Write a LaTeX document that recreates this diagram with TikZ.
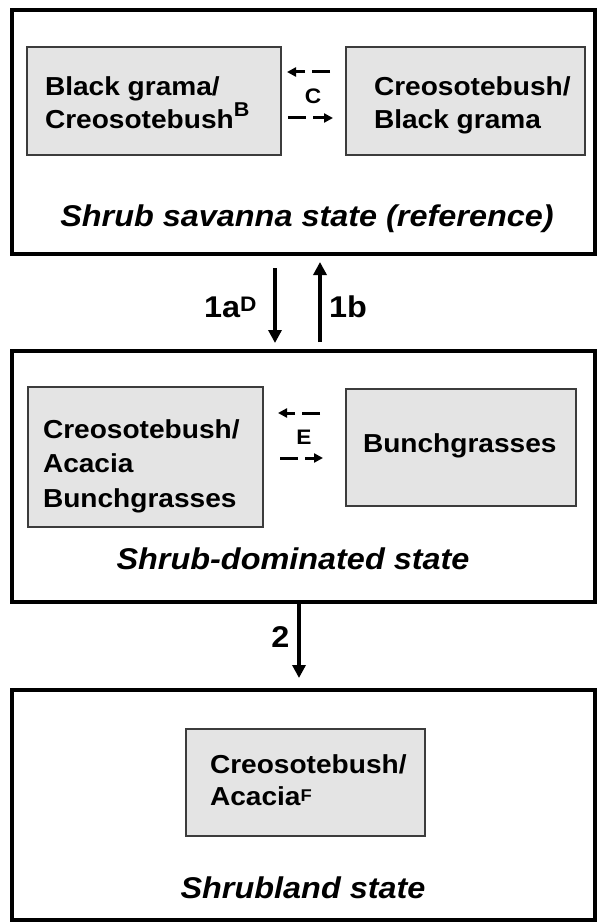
\documentclass[tikz,border=0pt]{standalone}
\usepackage{fontspec}
\setmainfont{Liberation Sans}[FakeStretch=1.08]
\usetikzlibrary{arrows.meta}
\definecolor{boxgray}{RGB}{228,228,228}
\definecolor{edgegray}{RGB}{60,60,60}
\newcommand{\fsz}[2]{\fontsize{#1}{#2}\selectfont}
\newcommand{\supr}[3]{\raisebox{#2pt}{\fontsize{#1}{#1}\selectfont #3}}
\begin{document}
\begin{tikzpicture}[x=1pt,y=-1pt,
  statebox/.style={draw=black,line width=4.5pt,rectangle,inner sep=0pt,outer sep=0pt},
  gbox/.style={draw=edgegray,fill=boxgray,line width=1.5pt,rectangle,inner sep=0pt,outer sep=0pt},
  btext/.style={inner sep=0pt,outer sep=0pt,align=left,font=\bfseries\fsz{26}{33}},
  stext/.style={inner sep=0pt,font=\bfseries\itshape\fsz{30}{36}},
  ltext/.style={inner sep=0pt,font=\bfseries\fsz{30}{36}},
  smalltext/.style={inner sep=0pt,font=\bfseries\fsz{21}{24}},
  solidarr/.style={line width=3.5pt,-{Triangle[length=13pt,width=13pt]}},
  dasharr/.style={line width=3pt,dash pattern=on 18pt off 7pt,-{Triangle[length=9pt,width=9pt]}},
]
\useasboundingbox (0,0) rectangle (598,923);
\fill[white] (0,0) rectangle (598,923);

% state boxes
\node[statebox,minimum width=583pt,minimum height=244pt] (s1) at (303.5,132) {};
\node[statebox,minimum width=583pt,minimum height=251pt] (s2) at (303.5,476.5) {};
\node[statebox,minimum width=583pt,minimum height=230pt] (s3) at (303.5,805) {};

% community boxes
\node[gbox,minimum width=254pt,minimum height=108pt] (b1) at (154,101) {};
\node[gbox,minimum width=239pt,minimum height=108pt] (b2) at (465.5,101) {};
\node[gbox,minimum width=235pt,minimum height=140pt] (b3) at (145.5,457) {};
\node[gbox,minimum width=230pt,minimum height=117pt] (b4) at (461,447.5) {};
\node[gbox,minimum width=239pt,minimum height=107pt] (b5) at (305.5,782.5) {};

% community texts
\node[btext,anchor=north west] (t1) at (45,76.4) {Black grama/\\Creosotebush\supr{20}{12}{B}};
\node[btext,anchor=north west] (t2) at (374,76.4) {Creosotebush/\\Black grama};
\node[btext,anchor=north west,font=\bfseries\fsz{26}{34.5}] (t3) at (43,419.4) {Creosotebush/\\Acacia\\Bunchgrasses};
\node[btext,anchor=base west] (t4) at (363,452) {Bunchgrasses};
\node[btext,anchor=north west,font=\bfseries\fsz{26}{32}] (t5) at (210,754.4) {Creosotebush/\\Acacia\supr{17}{4}{F}};

% state labels
\node[stext,anchor=base] (l1) at (307,226) {Shrub savanna state (reference)};
\node[stext,anchor=base] (l2) at (293,569) {Shrub-dominated state};
\node[stext,anchor=base] (l3) at (303,898) {Shrubland state};

% pathway labels
\node[smalltext] (c1) at (313,96) {C};
\node[smalltext] (e1) at (304,437) {E};

% dashed pathways
\draw[dasharr] ([xshift=-16pt,yshift=29pt]b2.west) -- ([xshift=6pt,yshift=29pt]b1.east);
\draw[dasharr] ([xshift=7pt,yshift=-17pt]b1.east) -- ([xshift=-13pt,yshift=-17pt]b2.west);
\draw[dasharr] ([xshift=-26pt,yshift=34.5pt]b4.west) -- ([xshift=15pt,yshift=44pt]b3.east);
\draw[dasharr] ([xshift=17pt,yshift=-1pt]b3.east) -- ([xshift=-23pt,yshift=-10.5pt]b4.west);

% transitions
\draw[solidarr] ([xshift=-28.5pt,yshift=-14pt]s1.south) -- ([xshift=-28.5pt,yshift=8pt]s2.north);
\draw[solidarr] ([xshift=16.5pt,yshift=9pt]s2.north) -- ([xshift=16.5pt,yshift=-8pt]s1.south);
\draw[solidarr] ([xshift=-4.5pt]s2.south) -- ([xshift=-4.5pt,yshift=12pt]s3.north);

\node[ltext,anchor=base west] (la) at (204,317) {1a\supr{21}{5.5}{D}};
\node[ltext,anchor=base west] (lb) at (329,317) {1b};
\node[ltext,anchor=base east] (ln) at (289.5,647) {2};
\end{tikzpicture}
\end{document}
